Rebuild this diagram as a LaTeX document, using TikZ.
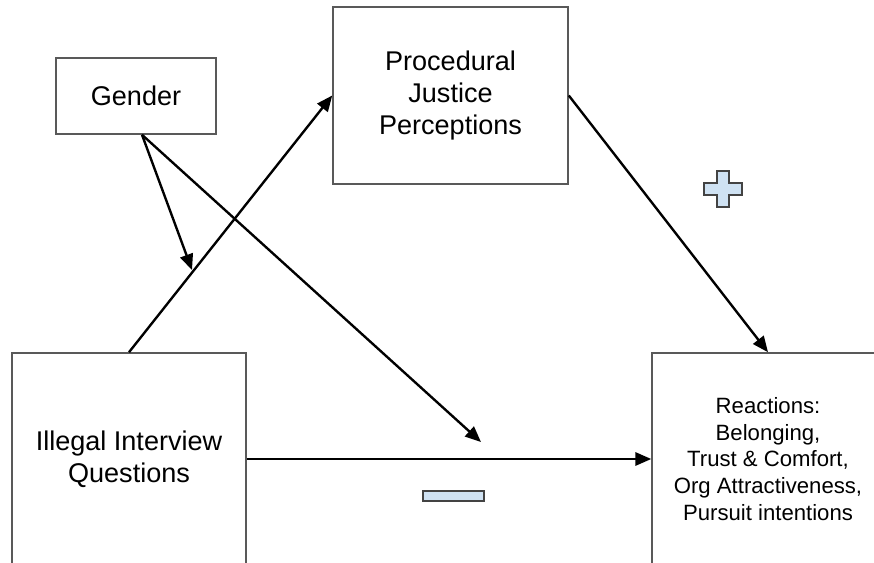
\documentclass[tikz,border=0pt]{standalone}
\usepackage{fontspec}
\setmainfont{Liberation Sans}
\usepackage{xcolor}
\usetikzlibrary{arrows.meta}

\definecolor{signfill}{HTML}{CFE2F3}
\definecolor{signline}{HTML}{434343}
\definecolor{boxline}{HTML}{595959}

\tikzset{
  varbox/.style={draw=boxline, line width=0.9pt, rectangle, align=center, inner sep=0pt,
    font=\fontsize{15.4}{18.2}\selectfont},
  link/.style={-{Triangle[length=9pt, width=7.5pt]}, line width=1.35pt},
  sign/.style={fill=signfill, draw=signline, line width=1.1pt}
}

\begin{document}
\begin{tikzpicture}[x=0.02cm, y=-0.02cm]
  % ----- Frame: same proportions as the reference, boxes run off the bottom -----
  \useasboundingbox (0,0) rectangle (874,563);
  \clip (0,0) rectangle (874,563);

  % ----- Variables -----
  \node[varbox, minimum width=3.2cm, minimum height=1.52cm] (gender) at (136,96) {Gender};
  \node[varbox, minimum width=4.7cm, minimum height=3.54cm] (justice) at (450.5,95.5)
    {Procedural\\Justice\\Perceptions};
  \node[varbox, minimum width=4.68cm, minimum height=4.24cm] (illegal) at (129,459)
    {Illegal Interview\\Questions};
  \node[varbox, minimum width=4.64cm, minimum height=4.24cm,
    font=\fontsize{12.6}{15.3}\selectfont] (reactions) at (768,459)
    {Reactions:\\Belonging,\\Trust \& Comfort,\\Org Attractiveness,\\Pursuit intentions};

  % free ends of the moderation arrows
  \coordinate (modtip) at (192,270);
  \coordinate (directtip) at (481,442);

  % ----- Paths -----
  \draw[link] (illegal.north) -- (justice.west);
  \draw[link] (justice.east) -- (reactions.north);
  \draw[link] (illegal.east) -- (reactions.west);
  \draw[link] ([xshift=0.12cm]gender.south) -- (modtip);
  \draw[link] ([xshift=0.12cm]gender.south) -- (directtip);

  % ----- Signs -----
  \draw[sign] (717,171) -- (729,171) -- (729,183) -- (742,183) -- (742,195) -- (729,195)
    -- (729,207) -- (717,207) -- (717,195) -- (704,195) -- (704,183) -- (717,183) -- cycle;
  \draw[sign] (423,491) rectangle (484,501);
\end{tikzpicture}
\end{document}
